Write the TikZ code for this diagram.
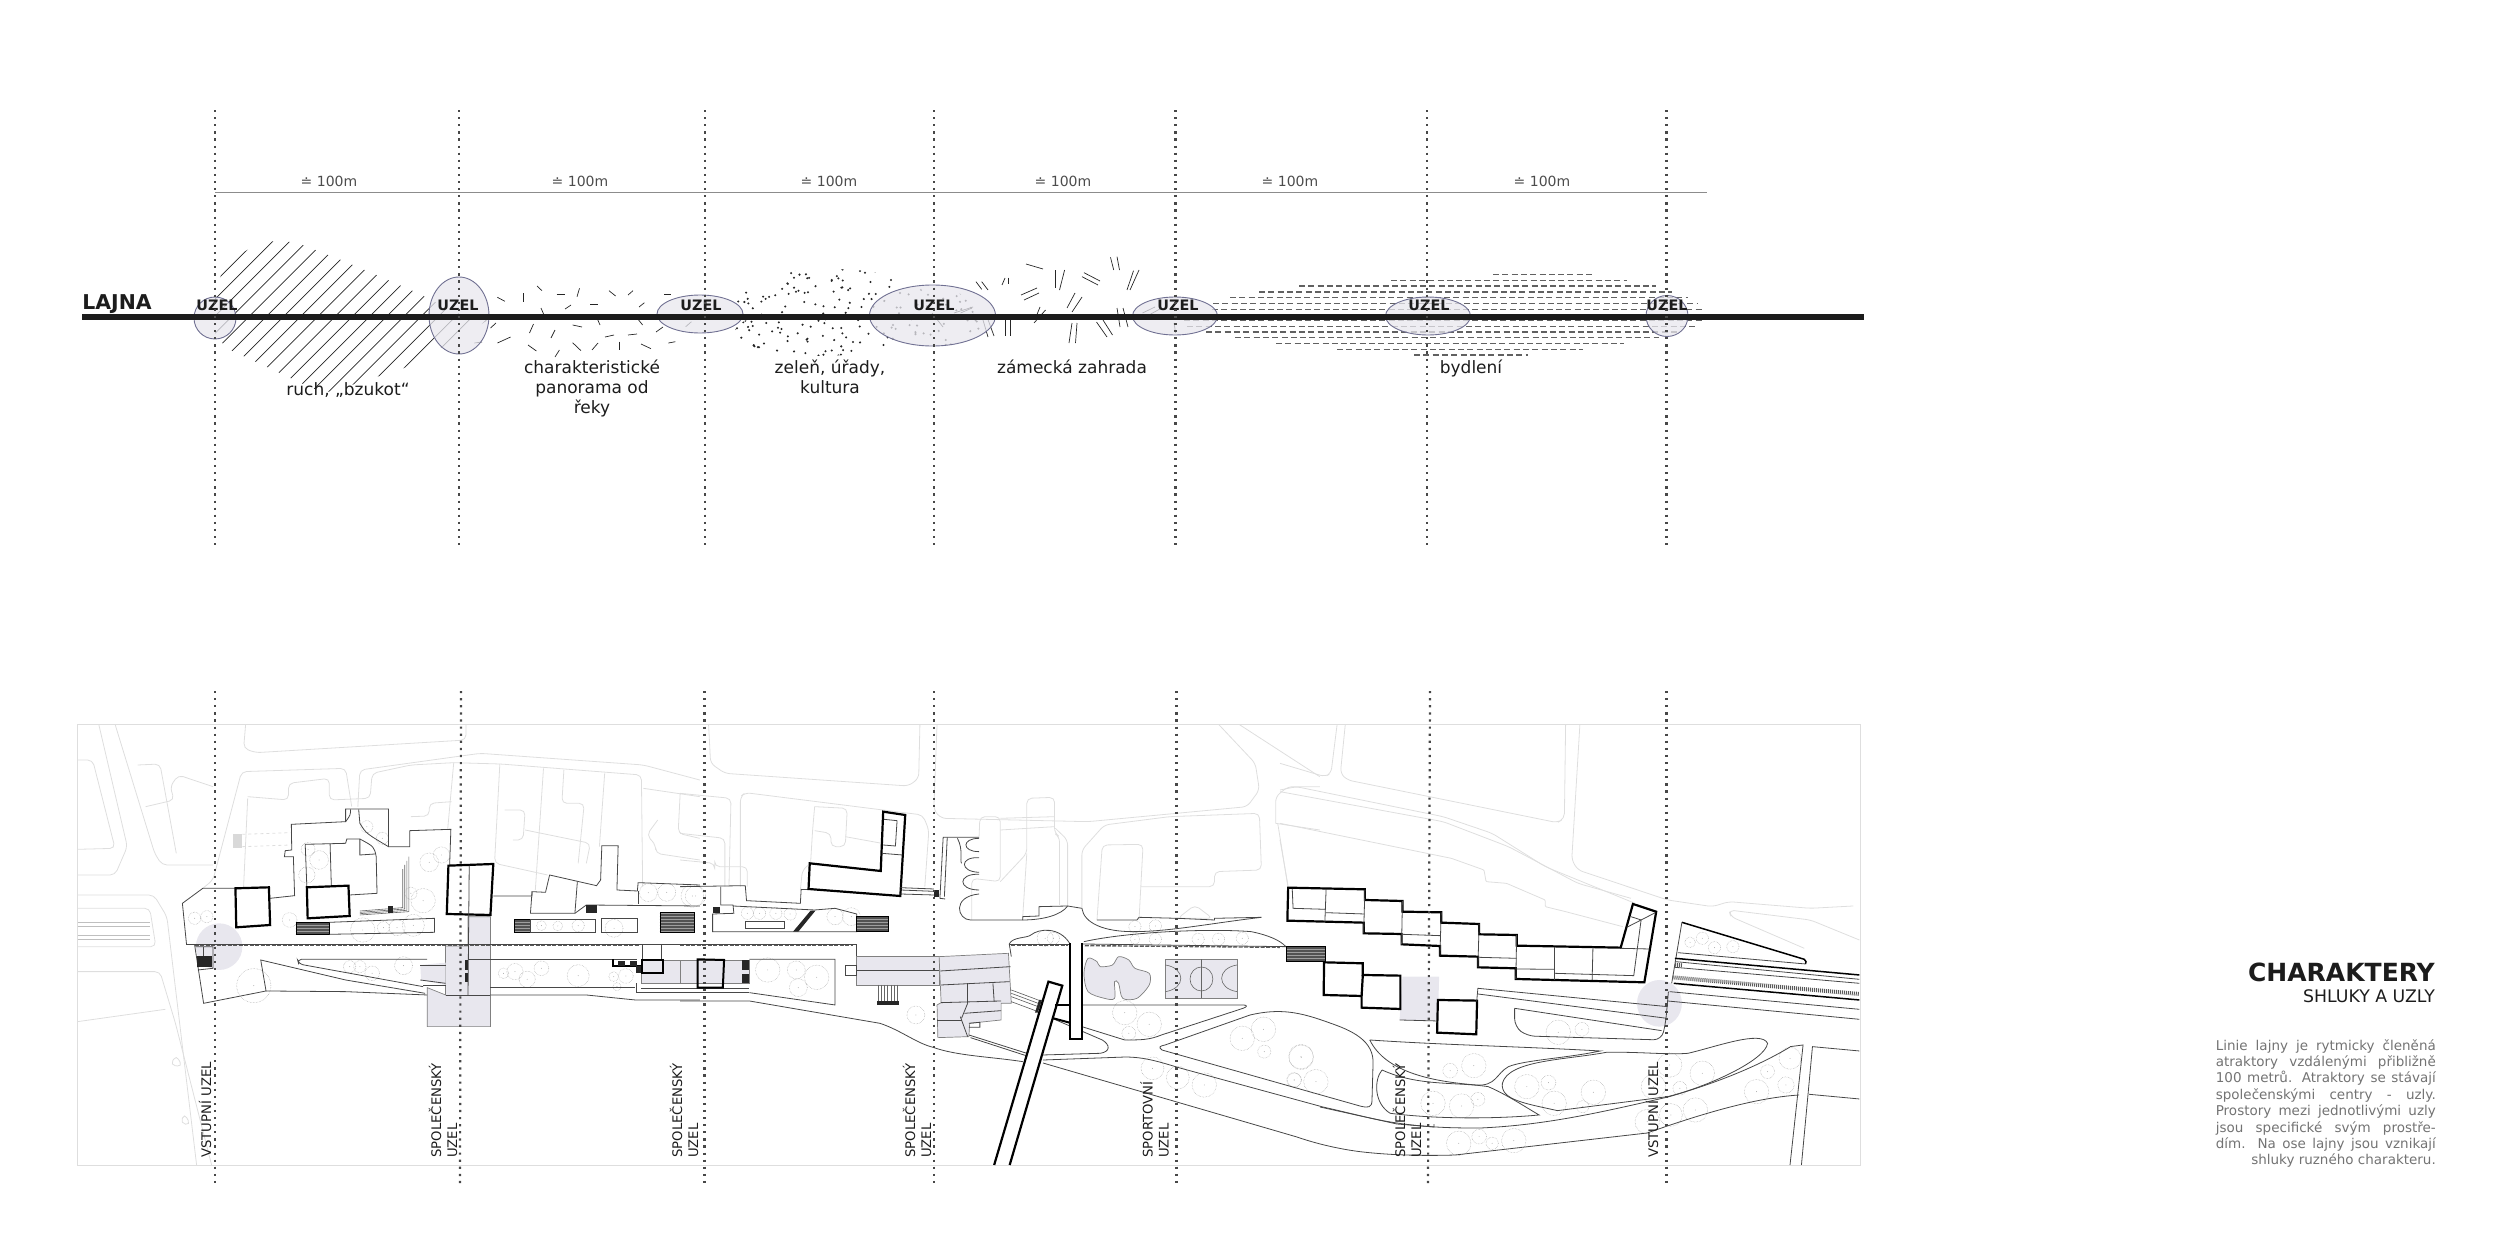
\documentclass[tikz,border=0pt]{standalone}
\usepackage{fontspec}
\setmainfont{DejaVu Sans}
\usetikzlibrary{patterns}
\definecolor{lilac}{RGB}{232,231,238}
\definecolor{lilacline}{RGB}{112,112,146}
\definecolor{inkdark}{RGB}{28,28,28}
\tikzset{
  axisdots/.style={draw=black!72, line width=2.2pt, dash pattern=on 2.2pt off 4.9pt},
  nodeblob/.style={draw=lilacline, fill=lilac, fill opacity=.75, line width=.9pt},
  nodetag/.style={font=\fontsize{14.4}{16}\selectfont\bfseries, text=inkdark},
  gaptag/.style={font=\fontsize{14}{16}\selectfont, text=black!70},
  zonetag/.style={font=\fontsize{17}{20}\selectfont, text=inkdark, align=center},
  sidetag/.style={font=\fontsize{13.2}{16}\selectfont, text=inkdark, rotate=90, anchor=west, align=left},
  rowdash/.style={draw=black!62, line width=1.1pt, dash pattern=on 6pt off 3.3pt},
  planpart/.style={xshift=#1pt, yshift=-690pt, x=.408pt, y=-.3333pt},
  faint/.style={draw=black!13, line width=.8pt, rounded corners=5pt},
  plain/.style={draw=black!72, line width=.8pt},
  heavy/.style={draw=black, line width=2.2pt, fill=white, line join=miter},
  lilacbox/.style={draw=black!50, line width=.7pt, fill=lilac},
  stripeblock/.style={preaction={fill=black!68}, pattern=horizontal lines, pattern color=black!38},
  blackbit/.style={fill=black!85},
  quay/.style={draw=black!65, line width=1.4pt, dash pattern=on 4pt off 1.5pt},
  treeline/.style={draw=black!34, line width=.5pt, densely dotted}
}
\newcommand{\treelist}[1]{%
  \foreach \tx/\ty/\tr in {#1}{
    \draw[treeline] (\tx,\ty) circle [x radius=\tr, y radius=1.22*\tr];
    \fill[black!35] (\tx,\ty) circle [x radius=1.2, y radius=1.4];
  }}
\newcommand{\justline}[1]{\makebox[220pt][s]{#1}}

\begin{document}
\begin{tikzpicture}[x=1pt, y=-1pt]
  \useasboundingbox (0,0) rectangle (2500,1250);

  % upper strip: noise zone
  \begin{scope}
    \clip (226,263) -- (262,241) -- (295,242) -- (341,260) -- (381,277) -- (422,295) -- (456,313) -- (488,320)
      -- (456,340) -- (430,353) -- (404,368) -- (358,383) -- (324,393) -- (301,383) -- (267,367) -- (226,348)
      -- (215,333) -- (215,290) -- cycle;
    \foreach \k in {-10,...,24}
      \draw[black!85, line width=.7pt] (200+\k*17.2,400) -- (200+\k*17.2+175,225);
  \end{scope}

  % panorama dashes
  \foreach \ax/\ay/\bx/\by in {497.4/297.3/504.9/301.3, 523.8/293.3/523.8/302, 537/286/542/290.7, 556.5/294/565/294,
      579.5/288.3/577/296.7, 609/290.7/615.6/296, 633/290.7/628/295, 664/294.7/671/294.7, 565/309/571/305,
      590/304.7/598/304.7, 639/307/644.4/302.7, 541/308/544/315, 496/323/490.5/328, 533.5/324/529.5/333,
      555/330/551/338, 572.6/325/582/327, 597/318/600/325, 637/318/642.6/325, 605/337/614/335, 628/335/637/334,
      656/332/663/327, 510.6/337/497.4/343, 482/342/474.4/343, 528/345/536.4/351, 559.4/350/555/357,
      572.6/342.7/581/350.7, 598/343/592/350, 619.7/341.7/619.7/350, 641/344/651/348.7, 668.4/343/675.4/341.7,
      685.7/326.7/691.4/321.7}
    \draw[black!85, line width=.7pt] (\ax,\ay) -- (\bx,\by);

  % greenery dots
  \begin{scope}
    \clip (830,297) ellipse [x radius=95, y radius=28] (820,332) ellipse [x radius=85, y radius=24]
      (935,318) ellipse [x radius=50, y radius=28];
    \pgfmathsetseed{23}
    \foreach \k in {1,...,215}{
      \pgfmathsetmacro{\dx}{735+rnd*255}
      \pgfmathsetmacro{\dy}{268+rnd*88}
      \fill[black!85] (\dx,\dy) circle (1.15);
    }
  \end{scope}

  % garden double strokes
  \foreach \ax/\ay/\bx/\by in {976/281.7/981.7/289.3, 981.7/281.7/988/290, 1005/278/1002/285, 1008.5/277.7/1008.5/284.3,
      1026/264/1043/269, 1021/295/1037/288, 1024/300/1039/293, 1055/270/1055/288, 1064.6/270/1059.5/290,
      1084/272.7/1100/281, 1082/276.7/1098/285, 1110.5/257.3/1113.7/270, 1117/256.7/1119.5/270, 1139/270/1130/290,
      1133.5/270.7/1127/290, 1075/293/1067/308, 1082/297/1072/312, 1045.5/310/1034/323, 1040/307/1036/317,
      1117/308/1120/327, 1123/308/1128/327, 1069/343/1072/323, 1075.5/343/1077/323, 1096.5/322/1107/337,
      1103/320/1112.5/335, 1005/320/1005/336, 1010/320/1010/336, 983/320/988/337, 987.4/318/994/336, 954/313/973/307,
      960.6/313/972/308, 1142.5/313/1155/307, 1149/315/1161.6/308, 1174/323/1175.6/333, 932/313/943/327}
    \draw[black!85, line width=.7pt] (\ax,\ay) -- (\bx,\by);

  % housing rows
  \foreach \ry/\ra/\rb in {274.7/1493/1595, 280.7/1391/1627, 286/1299/1656, 292/1259/1672, 297.7/1230/1688,
      303.3/1213/1697, 309.3/1212/1702, 315/1200/1702, 320.3/1184/1702, 326.3/1187/1697, 332/1206/1678,
      337.7/1235/1659, 343.3/1276/1624, 349.3/1337/1583, 355/1414/1528}
    \draw[rowdash] (\ra,\ry) -- (\rb,\ry);

  % nodes on the line
  \foreach \cx/\cy/\rx/\ry in {215/318/21/21, 459/315.5/30/38.5, 700/314/43/19, 932.5/315.5/63/30.5,
      1175/316/42.5/19, 1428/316/42.5/19, 1667/316/21/20.5}
    \draw[nodeblob] (\cx,\cy) ellipse [x radius=\rx, y radius=\ry];

  \draw[black!45, line width=.9pt] (215,192) -- (1707,192);
  \draw[inkdark, line width=6pt] (82,317) -- (1864,317);

  \node[font=\fontsize{20.4}{22}\selectfont\bfseries, text=inkdark] (lajna) at (117,304.5) {LAJNA};
  \node[nodetag] (uzela) at (217,305) {UZEL};
  \node[nodetag] (uzelb) at (458,305) {UZEL};
  \node[nodetag] (uzelc) at (701,305) {UZEL};
  \node[nodetag] (uzeld) at (934,305) {UZEL};
  \node[nodetag] (uzele) at (1178,305) {UZEL};
  \node[nodetag] (uzelf) at (1429,305) {UZEL};
  \node[nodetag] (uzelg) at (1667,305) {UZEL};

  \node[gaptag] (mezia) at (329,181) {≐ 100m};
  \node[gaptag] (mezib) at (580,181) {≐ 100m};
  \node[gaptag] (mezic) at (829,181) {≐ 100m};
  \node[gaptag] (mezid) at (1063,181) {≐ 100m};
  \node[gaptag] (mezie) at (1290,181) {≐ 100m};
  \node[gaptag] (mezif) at (1542,181) {≐ 100m};

  \node[zonetag] (ruch) at (348,390) {ruch, „bzukot“};
  \node[zonetag, anchor=north] (panorama) at (592,356) {charakteristické\\panorama od\\řeky};
  \node[zonetag, anchor=north] (zelen) at (830,356) {zeleň, úřady,\\kultura};
  \node[zonetag, anchor=north] (zahrada) at (1072,356) {zámecká zahrada};
  \node[zonetag, anchor=north] (bydleni) at (1471,356) {bydlení};

  % plan frame
  \draw[black!13, line width=.9pt] (77.5,724) rectangle (1860,1165.7);

  % plan, west part
  \begin{scope}[planpart=60]
    \draw[faint] (43,210) -- (80,210) -- (135,475) -- (43,478);
    \draw[faint] (95,103) -- (165,470) -- (135,555) -- (43,555);
    \draw[faint] (135,103) -- (232,490) -- (250,525) -- (375,525);
    \draw[faint] (190,225) -- (245,222) -- (285,490);
    \draw[faint] (210,350) -- (280,330) -- (270,290) -- (290,255) -- (375,290);
    \draw[faint] (350,595) -- (375,570) -- (445,245) -- (700,235) -- (715,350);
    \draw[faint] (455,103) -- (450,175) -- (480,188) -- (995,150) -- (995,103);
    \draw[faint] (730,350) -- (735,240) -- (1030,190) -- (1430,225) -- (1568,270);
    \draw[faint] (460,325) -- (450,590);
    \draw[faint] (460,320) -- (560,330) -- (560,280) -- (660,265) -- (660,330) -- (760,325) -- (765,250) -- (860,225) -- (965,218) -- (1080,222) -- (1425,255) -- (1428,590);
    \draw[faint] (965,218) -- (950,420);
    \draw[faint] (1078,222) -- (1065,520) -- (1195,555);
    \draw[faint] (1185,235) -- (1165,600);
    \draw[faint] (1235,240) -- (1230,340) -- (1285,340) -- (1270,520);
    \draw[faint] (1335,250) -- (1322,470);
    \draw[faint] (1090,360) -- (1140,360) -- (1135,450) -- (1110,450);
    \draw[faint] (1140,420) -- (1300,460) -- (1290,520);
    \draw[faint] (1430,295) -- (1568,320);
    \draw[faint] (1465,390) -- (1438,435) -- (1460,465) -- (1460,490) -- (1568,510);
    \draw[faint] (1520,310) -- (1515,430) -- (1568,445);
    \draw[faint] (860,380) -- (905,378) -- (905,340) -- (960,335);
    \draw[faint] (43,615) -- (230,615) -- (262,680) -- (335,1427);
    \draw[faint] (43,845) -- (245,845) -- (283,1000) -- (372,1427);
    \draw[faint] (43,995) -- (258,958);
    \draw[faint] (43,655) -- (220,655) -- (235,770) -- (43,770);
    \draw[faint] (270,1125) -- (285,1095) -- (300,1130) -- cycle;
    \draw[faint] (295,1300) -- (305,1270) -- (320,1305) -- cycle;
    \foreach \ry in {697,710,735,748}
      \draw[black!25, line width=.6pt] (43,\ry) -- (220,\ry);
    \fill[black!15] (425,433) rectangle (447,473);
    \draw[faint, dashed] (447,433) -- (565,428);
    \draw[faint, dashed] (447,470) -- (565,465);

    \fill[lilac] (390,770) ellipse [x radius=57, y radius=70];
    \treelist{475/887/42, 330/685/15, 360/680/15, 563/690/18, 742/720/30, 793/713/15, 826/713/20, 866/706/27,
      905/517/23, 935/495/20, 605/555/20, 635/510/23, 608/478/17, 890/632/30, 860/610/15, 735/830/15, 710/830/15,
      765/850/18, 842/827/22, 1115/845/20, 1145/868/20, 1180/835/18, 1087/850/13, 1270/857/27, 1387/858/18,
      1357/860/12, 1365/890/10, 1180/707/12, 1220/708/12, 1270/707/15, 1358/715/22, 1442/608/22, 1487/607/22,
      1550/618/28, 752/410/15, 790/445/15}

    \draw[plain] (430,595) -- (350,595) -- (300,640) -- (310,762);
    \draw[plain] (515,625) -- (575,617) -- (572,500) -- (550,500) -- (552,482) -- (568,480) -- (567,403) -- (700,395)
      -- (700,357) -- (805,357) -- (805,470) -- (857,470) -- (857,422) -- (958,418) -- (955,525);
    \draw[plain] (712,358) .. controls (712,375) .. (700,395);
    \draw[plain] (732,358) -- (735,400) .. controls (750,430) .. (805,470);
    \draw[plain] (605,590) -- (601,463) -- (700,460) -- (703,447) -- (735,447) .. controls (770,470) .. (775,500) -- (777,610) -- (710,615);
    \draw[plain] (662,462) -- (665,587);
    \draw[plain] (735,447) -- (735,495) -- (772,492);
    \foreach \d in {0,5,10,15}
      \draw[black!60, line width=.6pt] (735,675-\d*.8) -- (855-\d,665-\d*.8) -- (855-\d,500+\d*2.5);
    \fill[blackbit] (805,647) rectangle (815,670);
    \draw[stripeblock] (578,697) rectangle (660,733);
    \draw[plain] (660,697) -- (918,685) -- (918,727) -- (660,733);
    \draw[heavy] (430,595) -- (512,592) -- (515,705) -- (432,712) -- cycle;
    \draw[heavy] (605,592) -- (707,587) -- (710,678) -- (607,685) -- cycle;

    \draw[lilacbox] (945,768) -- (1000,768) -- (1000,680) -- (1055,680) -- (1055,1010) -- (900,1010) -- (900,893) -- (945,915) -- cycle;
    \draw[plain] (945,915) -- (1055,915);
    \fill[lilac] (883,825) -- (945,818) -- (945,885) -- (885,870) -- cycle;
    \draw[plain] (883,825) -- (945,825);
    \draw[plain] (883,870) -- (945,880);
    \draw[plain] (890,885) -- (945,885);
    \fill[blackbit] (992,810) rectangle (1000,840);
    \fill[blackbit] (992,850) rectangle (1000,875);
    \draw[heavy] (952,527) -- (1062,522) -- (1055,675) -- (948,672) -- cycle;
    \draw[plain] (1003,527) -- (1000,915);

    \draw[plain] (310,762) -- (1568,762);
    \draw[quay] (330,767) -- (1420,767);
    \draw[plain] (330,765) -- (352,940) -- (505,903) -- (492,810) -- (700,870) -- (895,910);
    \draw[plain] (505,903) -- (700,905) -- (900,915);
    \draw[plain, rounded corners=4pt] (900,808) -- (582,808) -- (585,822) -- (890,890);
    \draw[plain] (1000,808) -- (1415,808);
    \draw[plain] (1055,893) -- (1410,893);
    \draw[plain] (1055,915) -- (1290,915) -- (1410,930) -- (1568,930);
    \draw[plain] (1062,618) -- (1157,618) -- (1157,605) -- (1190,607) -- (1200,555) -- (1315,587) -- (1325,570)
      -- (1328,467) -- (1368,467) -- (1365,600) -- (1415,603) -- (1417,578) -- (1568,585);
    \draw[plain] (1157,605) -- (1153,670) -- (1262,670) -- (1290,645) -- (1568,648);
    \draw[plain] (1268,575) -- (1262,670);
    \draw[plain] (1417,603) -- (1417,642);
    \fill[blackbit] (1290,645) rectangle (1315,670);
    \draw[stripeblock] (1113,687) rectangle (1153,727);
    \draw[plain] (1153,687) rectangle (1313,727);
    \draw[plain] (1326,685) rectangle (1415,727);
    \draw[stripeblock] (1470,667) rectangle (1555,727);
    \fill[blackbit] (335,798) rectangle (372,832);
    \draw[plain] (332,770) -- (375,770) -- (375,835) -- (338,840);
    \draw[plain] (352,770) -- (352,798);
    \draw[plain] (1428,765) -- (1428,810);
    \draw[plain] (1475,762) -- (1475,810);
    \draw[lilacbox] (1425,810) -- (1568,810) -- (1568,880) -- (1425,880) -- cycle;
    \draw[plain] (1412,880) -- (1412,908) -- (1568,908);
    \draw[plain] (1425,895) -- (1568,895);
    \draw[draw=black, line width=1.6pt] (1355,808) -- (1355,828) -- (1425,828);
    \fill[blackbit] (1368,812) rectangle (1385,828);
    \fill[blackbit] (1397,812) rectangle (1414,828);
    \fill[blackbit] (1412,828) rectangle (1425,848);
    \draw[draw=black, line width=1.8pt] (1427,810) rectangle (1477,848);
  \end{scope}

  % plan, middle part
  \begin{scope}[planpart=680]
    \draw[faint] (70,103) -- (75,220) -- (110,250) -- (560,288) -- (585,265) -- (588,103);
    \draw[faint] (0,310) -- (125,325) -- (120,590);
    \draw[faint] (148,590) -- (148,320) -- (160,308) -- (595,375) -- (610,420) -- (600,590);
    \draw[faint] (630,103) -- (622,360) -- (640,385) -- (1000,395) -- (1390,350) -- (1420,300) -- (1410,220) -- (1320,103);
    \draw[faint] (1370,103) -- (1568,260);
    \draw[faint] (715,690) -- (715,565) -- (785,575) -- (785,380) -- (735,380) -- (733,440);
    \draw[faint] (785,575) -- (850,490) -- (850,325) -- (918,322) -- (918,430) -- (930,440) -- (930,645);
    \draw[faint] (850,490) -- (840,680);
    \draw[faint] (785,385) -- (918,380);
    \draw[faint] (785,420) -- (918,410);
    \draw[faint] (920,415) -- (950,450) -- (950,650);
    \draw[faint] (985,655) -- (985,480) -- (1040,405) -- (1200,380) -- (1420,370) -- (1425,540) -- (1310,545) -- (1310,590) -- (1130,590);
    \draw[faint] (1022,690) -- (1035,465) -- (1135,463) -- (1125,690);
    \draw[faint] (1465,400) -- (1490,590);
    \draw[faint] (1460,400) -- (1460,320) -- (1490,290) -- (1568,290);
    \draw[faint] (1460,400) -- (1568,420);
    \draw[faint] (1220,685) -- (1262,645) -- (1305,685) -- cycle;
    \draw[faint] (295,600) -- (300,540) -- (320,520);
    \draw[faint] (330,350) -- (325,420) -- (320,520);
    \draw[faint] (330,350) -- (410,355) -- (405,470) -- (370,470) -- (370,430) -- (330,422);
    \draw[faint] (405,440) -- (495,460);
    \draw[faint] (0,430) -- (110,445) -- (110,590);
    \draw[faint] (0,510) -- (85,520) -- (85,530) -- (165,530) -- (165,590);

    \treelist{38/618/25, 215/840/30, 285/840/22, 335/862/30, 290/893/22, 578/975/22, 1090/968/30, 1150/1003/30,
      1100/1030/17, 1158/1135/28, 1220/1163/28, 1285/1185/30, 1378/1045/30, 1430/1018/30, 1432/1085/16, 1522/1100/30,
      1505/1170/18, 895/745/20, 915/745/15, 380/680/20, 420/680/22, 165/670/15, 195/670/15, 235/670/15, 270/672/15,
      1115/710/15, 1165/708/15, 1270/748/15, 1320/748/15, 1378/745/15, 1165/748/15, 1115/748/12}

    \draw[plain] (0,590) -- (160,587) -- (163,632) -- (295,640) -- (297,597);
    \draw[plain] (100,590) -- (100,645) -- (130,645) -- (132,670) -- (80,672) -- (80,725) -- (433,725) -- (433,672) -- (380,655) -- (330,660) -- (130,648);
    \draw[plain] (160,695) rectangle (255,715);
    \draw[stripeblock] (433,680) rectangle (510,725);
    \fill[blackbit] (320,662) -- (332,662) -- (290,725) -- (277,725) -- cycle;
    \fill[blackbit] (82,650) rectangle (98,668);
    \draw[plain] (297,597) -- (318,597);
    \draw[heavy] (318,520) -- (492,543) -- (498,365) -- (552,375) -- (540,618) -- (315,597) -- cycle;
    \draw[plain] (500,388) -- (532,392) -- (528,468) -- (498,465);
    \draw[plain] (495,490) -- (545,495);
    \draw[plain] (540,593) -- (622,597);
    \draw[plain] (540,600) -- (622,604);
    \draw[plain] (540,612) -- (622,615);
    \fill[blackbit] (622,600) rectangle (635,622);

    \draw[plain] (733,442) -- (645,442) -- (637,625) -- (650,627);
    \draw[plain] (655,442) -- (648,620);
    \draw[plain] (680,445) .. controls (695,480) and (685,510) .. (690,520);
    \draw[plain] (733,445) .. controls (690,445) and (690,485) .. (733,485);
    \draw[plain] (733,503) .. controls (685,500) and (685,545) .. (733,547);
    \draw[plain] (733,553) .. controls (680,550) and (680,600) .. (733,600);
    \draw[plain] (733,612) .. controls (665,620) and (680,690) .. (712,690) -- (840,690) -- (840,680) -- (880,678) -- (880,650) -- (950,648) -- (985,655);
    \draw[plain] (840,690) .. controls (890,690) and (935,675) .. (950,648);
    \draw[plain] (985,655) .. controls (990,700) and (1040,725) .. (1110,725) .. controls (1200,725) and (1300,700) .. (1425,682);
    \draw[plain] (1022,690) -- (1120,690) -- (1125,682) -- (1220,685) -- (1310,690) -- (1310,685) -- (1425,682);
    \draw[plain] (807,762) .. controls (815,740) and (850,745) .. (860,735) .. controls (880,715) and (930,710) .. (955,760);
    \draw[plain] (990,755) .. controls (1100,725) and (1300,715) .. (1400,725) .. controls (1440,735) and (1470,750) .. (1485,770);

    \draw[plain] (0,762) -- (433,762) -- (433,885);
    \draw[quay] (0,767) -- (425,767);
    \draw[plain] (807,762) -- (955,762);
    \draw[quay] (812,767) -- (950,767);
    \draw[plain] (985,762) -- (1485,770);
    \draw[quay] (992,767) -- (1470,772);

    \draw[lilacbox] (433,800) rectangle (635,885);
    \draw[plain] (433,842) -- (635,842);
    \draw[plain, fill=white] (405,827) rectangle (433,857);
    \draw[lilacbox] (635,800) -- (805,790) -- (812,940) -- (787,940) -- (787,990) -- (710,1000) -- (708,1040) -- (632,1043) -- (630,945) -- (640,938) -- cycle;
    \draw[plain] (638,843) -- (810,830);
    \draw[plain] (640,885) -- (808,875);
    \draw[plain] (705,880) -- (705,940);
    \draw[plain] (767,880) -- (770,935);
    \draw[plain] (640,938) -- (787,933);
    \draw[plain] (630,990) -- (690,990);
    \draw[plain] (687,980) -- (705,1040);
    \draw[plain] (705,940) -- (690,985);
    \draw[plain] (697,970) -- (787,962);
    \draw[plain] (708,1000) -- (735,997) -- (735,1012) -- (708,1012);
    \draw[plain] (807,762) -- (812,800);
    \foreach \d in {0,10,20,35}
      \draw[black!65, line width=.6pt] (812,900+\d) -- (882,932+\d);
    \fill[blackbit] (880,930) -- (887,930) -- (877,968) -- (870,968) -- cycle;

    \draw[lilacbox] (0,810) rectangle (170,880);
    \fill[blackbit] (152,810) rectangle (170,840);
    \fill[blackbit] (152,852) rectangle (170,880);
    \draw[plain] (0,895) -- (170,895);
    \draw[plain] (0,908) -- (170,908);
    \draw[draw=black, line width=2pt] (43,808) -- (108,810) -- (105,893) -- (43,893) -- cycle;
    \draw[plain] (170,808) -- (380,808) -- (380,945) -- (170,908);
    \draw[plain] (0,933) -- (170,933) -- (490,1000) .. controls (540,1020) and (580,1060) .. (620,1072) .. controls (680,1098) and (760,1100) .. (840,1115);
    \foreach \d in {0,8,...,48}
      \draw[black!60, line width=.6pt] (485+\d,885) -- (485+\d,935);
    \fill[blackbit] (482,933) rectangle (537,945);
    \draw[plain] (708,1035) -- (850,1090);
    \draw[plain] (712,1043) -- (848,1097);

    \draw[plain] (912,985) -- (1035,1050) .. controls (1055,1065) and (1055,1085) .. (1030,1090) -- (890,1095);
    \draw[plain] (985,1010) -- (1090,1050) .. controls (1130,1050) and (1150,1050) .. (1180,1035) -- (1380,955) .. controls (1392,950) and (1390,945) .. (1380,945) -- (985,945);

    \draw[lilacbox] plot [smooth cycle] coordinates {(990,850) (1000,805) (1022,815) (1030,830) (1060,825) (1075,800) (1100,810) (1115,835) (1150,850) (1150,885) (1120,925) (1085,925) (1075,880) (1065,875) (1065,925) (1040,925) (1000,905)};
    \draw[lilacbox] (1190,808) rectangle (1365,925);
    \draw[black!60, line width=.6pt] (1278,808) -- (1278,925);
    \draw[black!60, line width=.6pt] (1278,867) ellipse [x radius=28, y radius=36];
    \draw[black!60, line width=.6pt] (1190,825) .. controls (1240,835) and (1240,895) .. (1190,905);
    \draw[black!60, line width=.6pt] (1365,825) .. controls (1315,835) and (1315,895) .. (1365,905);

    \draw[heavy] (770,1425) -- (903,875) -- (937,887) -- (808,1425);
    \draw[heavy] (955,760) -- (955,1048) -- (985,1048) -- (985,760);
    \draw[draw=black, line width=2pt] (920,945) -- (955,945);
    \draw[draw=black, line width=2pt] (915,985) -- (955,998);
  \end{scope}

  % plan, east part
  \begin{scope}[planpart=1280]
    \draw[faint] (160,103) -- (148,250) -- (165,270) -- (680,398) -- (697,385) -- (700,103);
    \draw[faint] (0,220) -- (110,260) -- (125,250) -- (140,103);
    \draw[faint] (735,103) -- (715,510) -- (730,540) -- (950,630) -- (1060,650) -- (1100,635) -- (1300,655) -- (1405,648);
    \draw[faint] (0,300) -- (40,290) -- (400,380) -- (520,430) -- (650,530) -- (870,640);
    \draw[faint] (0,305) -- (400,395) -- (560,470) -- (730,580) -- (860,625);
    \draw[faint, rounded corners=1pt] (0,400) -- (420,505) -- (500,540) -- (505,575) -- (555,580) -- (650,630) -- (650,650) -- (700,665) -- (840,710);
    \draw[faint] (1285,775) -- (1105,680) -- (1100,660) -- (1300,690) -- (1420,750);
    \draw[faint] (0,450) -- (20,590);

    \fill[lilac] (930,940) ellipse [x radius=55, y radius=70];
    \fill[lilac] (300,860) -- (390,860) -- (387,990) -- (293,990) -- cycle;
    \draw[plain] (293,990) -- (387,993);

    \treelist{52/1102/30, 88/1175/30, 35/1170/17, 475/1127/30, 417/1142/18, 375/1240/30, 445/1248/30, 485/1228/17,
      605/1190/30, 658/1178/18, 672/1240/30, 768/1207/30, 742/1250/15, 438/1360/30, 488/1340/18, 520/1360/15,
      573/1352/30, 682/1027/30, 740/1018/17, 1035/1150/30, 955/1125/30, 915/1190/30, 980/1195/17, 1018/1260/30,
      958/1275/28, 900/1295/30, 1168/1205/30, 1195/1145/17, 1250/1105/27, 1240/1185/20, 1005/757/13, 1035/745/15,
      1065/773/15, 1110/770/15}

    \draw[stripeblock] (15,770) rectangle (110,815);
    \draw[heavy] (20,593) -- (208,598) -- (208,630) -- (300,633) -- (300,665) -- (395,667) -- (395,698) -- (488,702)
      -- (488,733) -- (580,735) -- (580,767) -- (835,773) -- (865,642) -- (922,665) -- (893,877) -- (578,867)
      -- (578,835) -- (485,832) -- (485,800) -- (392,797) -- (392,768) -- (298,763) -- (298,732) -- (205,730)
      -- (205,698) -- (18,692) -- cycle;
    \draw[plain] (113,597) -- (110,695);
    \draw[plain] (208,600) -- (205,730);
    \draw[plain] (300,633) -- (298,763);
    \draw[plain] (395,667) -- (392,797);
    \draw[plain] (488,702) -- (485,832);
    \draw[plain] (580,735) -- (578,867);
    \draw[plain] (673,770) -- (673,870);
    \draw[plain] (767,772) -- (765,870);
    \draw[plain] (30,597) -- (32,655) -- (112,658);
    \draw[plain] (112,668) -- (207,672);
    \draw[plain] (300,733) -- (392,737);
    \draw[plain] (488,802) -- (580,805);
    \draw[plain] (580,837) -- (673,838);
    \draw[plain] (673,850) -- (867,857) -- (885,690) -- (860,680);
    \draw[plain] (835,775) -- (905,777);
    \draw[plain] (850,712) -- (920,668);
    \draw[heavy] (108,817) -- (203,820) -- (203,855) -- (295,857) -- (295,957) -- (200,953) -- (200,918) -- (107,915) -- cycle;
    \draw[draw=black, line width=2.2pt] (203,855) -- (200,918);
    \draw[heavy] (387,930) -- (483,932) -- (481,1033) -- (385,1028) -- cycle;

    \draw[plain] (482,935) -- (485,895) -- (950,950);
    \draw[plain] (485,912) -- (948,985);
    \draw[plain] (575,955) -- (935,1022);
    \draw[plain, rounded corners=8pt] (575,955) -- (575,1010) -- (605,1038) -- (935,1050) -- (945,1000) -- (952,905);
    \draw[draw=black, line width=1.5pt] (985,697) -- (1285,808) .. controls (1290,815) .. (1288,822);
    \draw[plain] (1288,822) -- (975,788);
    \draw[plain] (985,697) -- (960,880);
    \draw[draw=black, line width=1.5pt] (968,805) -- (1420,855);
    \draw[draw=black, line width=1.5pt] (965,880) -- (1420,930);
    \draw[plain] (970,815) -- (1420,868);
    \draw[plain] (968,832) -- (1420,880);
    \draw[black!65, line width=4pt, dash pattern=on 1pt off 1pt] (962,862) -- (1420,912);
    \draw[black!65, line width=4pt, dash pattern=on 1pt off 1pt] (968,824) -- (985,826);
    \draw[plain] (955,905) -- (1420,958);
    \draw[plain] (950,933) -- (1420,988);

    \draw[plain] (220,1050) .. controls (400,1065) and (600,1070) .. (785,1083) .. controls (700,1105) and (600,1110) .. (560,1130) .. controls (530,1150) and (530,1190) .. (480,1185) .. controls (380,1175) and (260,1150) .. (220,1050);
    \draw[plain] (545,1180) .. controls (560,1110) and (700,1110) .. (800,1087) .. controls (880,1085) and (950,1095) .. (1000,1090) .. controls (1070,1070) and (1180,1020) .. (1195,1060) .. controls (1190,1110) and (1050,1190) .. (950,1220) -- (680,1262) .. controls (600,1240) and (540,1230) .. (545,1180);
    \draw[plain] (250,1140) .. controls (230,1170) and (230,1240) .. (270,1270) .. controls (400,1290) and (550,1285) .. (635,1275) .. controls (600,1250) and (550,1210) .. (510,1190) .. controls (430,1175) and (340,1190) .. (250,1140);
    \draw[plain] (1250,1425) -- (1282,1065) -- (1250,1070);
    \draw[plain] (1420,1083) -- (1305,1070) -- (1278,1425);
    \draw[plain] (1297,1213) -- (1420,1227);
  \end{scope}

  % river bank and roads across the two parts
  \draw[plain] (1162,1050) .. controls (1158,1047) and (1160,1046) .. (1165,1045) -- (1250,1015)
    .. controls (1280,1008) and (1300,1012) .. (1330,1023) .. controls (1350,1030) and (1375,1040) .. (1373,1065)
    -- (1372,1100) .. controls (1372,1108) and (1368,1108) .. (1360,1106) -- cycle;
  \draw[plain] (1043,1060) -- (1125,1057) .. controls (1145,1057) and (1160,1062) .. (1180,1068) -- (1323,1107)
    .. controls (1350,1113) and (1375,1120) .. (1397,1123) .. controls (1430,1128) and (1460,1128) .. (1480,1128)
    .. controls (1550,1125) and (1610,1110) .. (1668,1097) .. controls (1720,1082) and (1760,1065) .. (1790,1047);
  \draw[plain] (1043,1063) -- (1297,1137) .. controls (1320,1145) and (1345,1150) .. (1363,1152)
    .. controls (1390,1155) and (1420,1156) .. (1455,1155) -- (1647,1133) .. controls (1690,1118) and (1750,1098) .. (1799,1095);
  \draw[plain] (1320,1107) -- (1397,1124) -- (1434,1127) -- (1434,1124);

  \draw[axisdots] (215,110) -- (215,545);
  \draw[axisdots] (459,110) -- (459,545);
  \draw[axisdots] (705,110) -- (705,545);
  \draw[axisdots] (934,110) -- (934,545);
  \draw[axisdots] (1175.5,110) -- (1175.5,545);
  \draw[axisdots] (1427,110) -- (1427,545);
  \draw[axisdots] (1666.5,110) -- (1666.5,545);

  \draw[axisdots] (215,691) -- (215,1185);
  \draw[axisdots] (461,691) -- (460,1185);
  \draw[axisdots] (704.5,691) -- (704.5,1185);
  \draw[axisdots] (934,691) -- (934,1185);
  \draw[axisdots] (1176.5,691) -- (1176.5,1185);
  \draw[axisdots] (1430,691) -- (1428,1185);
  \draw[axisdots] (1666.5,691) -- (1666.5,1185);

  \node[sidetag] (vstupa) at (205,1161) {VSTUPNÍ UZEL};
  \node[sidetag] (spola) at (443,1161) {SPOLEČENSKÝ\\UZEL};
  \node[sidetag] (spolb) at (684,1161) {SPOLEČENSKÝ\\UZEL};
  \node[sidetag] (spolc) at (917,1161) {SPOLEČENSKÝ\\UZEL};
  \node[sidetag] (sport) at (1154.5,1161) {SPORTOVNÍ\\UZEL};
  \node[sidetag] (spold) at (1407,1161) {SPOLEČENSKÝ\\UZEL};
  \node[sidetag] (vstupb) at (1652,1161) {VSTUPNÍ UZEL};

  \node[anchor=east, inner sep=0pt, font=\fontsize{25}{28}\selectfont\bfseries, text=inkdark] (titul) at (2435,972) {CHARAKTERY};
  \node[anchor=east, inner sep=0pt, font=\fontsize{17.3}{20}\selectfont, text=inkdark] (podtitul) at (2435,996) {SHLUKY A UZLY};
  \node[anchor=north east, inner sep=0pt, align=right, font=\fontsize{13.5}{16.4}\selectfont, text=black!55] (popis) at (2436,1039) {%
    \justline{Linie lajny je rytmicky členěná}\\
    \justline{atraktory vzdálenými přibližně}\\
    \justline{100 metrů. Atraktory se stávají}\\
    \justline{společenskými centry - uzly.}\\
    \justline{Prostory mezi jednotlivými uzly}\\
    \justline{jsou specifické svým prostře-}\\
    \justline{dím. Na ose lajny jsou vznikají}\\
    shluky ruzného charakteru.};
\end{tikzpicture}
\end{document}
